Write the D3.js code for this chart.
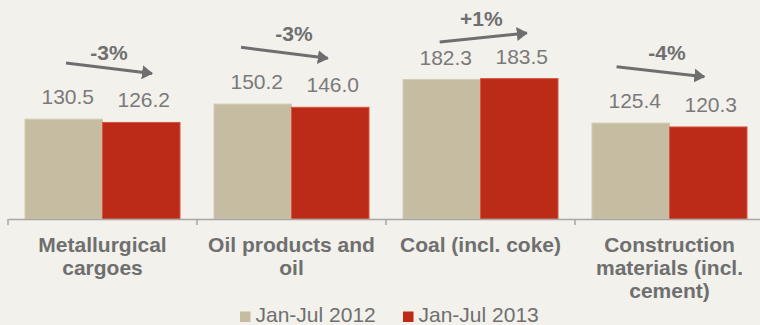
<!DOCTYPE html>
<html>
<head>
<meta charset="utf-8">
<script src="https://cdn.jsdelivr.net/npm/d3@7"></script>
<style>
  html, body { margin: 0; padding: 0; background: #F2F1EC; }
  svg { display: block; }
  text { font-family: "Liberation Sans", Arial, sans-serif; }
</style>
</head>
<body>
<svg id="chart" width="760" height="325"></svg>
<script>
// ---- data ----
const categories = [
  ["Metallurgical", "cargoes"],
  ["Oil products and", "oil"],
  ["Coal (incl. coke)"],
  ["Construction", "materials (incl.", "cement)"]
];
const seriesNames = ["Jan-Jul 2012", "Jan-Jul 2013"];
const values2012 = [130.5, 150.2, 182.3, 125.4];
const values2013 = [126.2, 146.0, 183.5, 120.3];
const changeLabels = ["-3%", "-3%", "+1%", "-4%"];
// arrow annotations: value-axis level at tail and tip
const arrowTailValue = [203.9, 224.4, 231.4, 199.1];
const arrowTipValue  = [190.2, 210.0, 243.1, 186.0];
// arrow annotations: position within the category band (fraction of band)
const arrowTailBand = [0.307, 0.233, 0.284, 0.220];
const arrowTipBand  = [0.762, 0.692, 0.745, 0.684];
// change label anchor: value-axis level of baseline, band fraction of centre
const changeLabelValue = [207.8, 232.7, 252.3, 207.8];
const changeLabelBand  = [0.534, 0.513, 0.504, 0.487];

const colors = ["#C5BCA1", "#BC2B17"];
const strokeColors = ["#D3CCB6", "#D9553F"];

// ---- scales ----
const svg = d3.select("#chart");
const catKeys = categories.map((c, i) => i);
const x = d3.scaleBand().domain(catKeys).range([8, 764]).padding(0);
const x1 = d3.scaleBand().domain(seriesNames).range([17, 172]).padding(0);
const y = d3.scaleLinear().domain([0, 200]).range([219, 66]);

const data = catKeys.map(i => ({
  i,
  vals: [values2012[i], values2013[i]]
}));

// ---- bars ----
const g = svg.append("g");
data.forEach(d => {
  d.vals.forEach((v, s) => {
    g.append("rect")
      .attr("x", x(d.i) + x1(seriesNames[s]))
      .attr("y", y(v))
      .attr("width", x1.bandwidth())
      .attr("height", y(0) - y(v))
      .attr("fill", colors[s])
      .attr("stroke", strokeColors[s])
      .attr("stroke-width", 1);
    g.append("text")
      .attr("x", x(d.i) + x1(seriesNames[s]) + x1.bandwidth() / 2 + (s === 0 ? 4 : 2.5))
      .attr("y", y(v) - 15)
      .attr("text-anchor", "middle")
      .attr("font-size", 21)
      .attr("fill", "#7a7a7a")
      .text(v.toFixed(1));
  });
});

// ---- axis ----
const axis = d3.axisBottom(x).tickSize(0).tickFormat("");
const axG = svg.append("g").attr("transform", `translate(0,${y(0)})`).call(axis);
axG.select(".domain").attr("stroke", "#A6A6A6").attr("stroke-width", 1.5);
const bounds = catKeys.map(i => x(i));
axG.selectAll("line.bt").data(bounds).join("line")
  .attr("class", "bt")
  .attr("x1", d => d).attr("x2", d => d)
  .attr("y1", 0).attr("y2", 6)
  .attr("stroke", "#A6A6A6").attr("stroke-width", 1.5);

// ---- category labels ----
categories.forEach((lines, i) => {
  const t = svg.append("text")
    .attr("text-anchor", "middle")
    .attr("font-size", 21)
    .attr("font-weight", "bold")
    .attr("fill", "#6f6f6f");
  lines.forEach((ln, k) => {
    t.append("tspan")
      .attr("x", x(i) + x.bandwidth() / 2)
      .attr("y", 251.5 + k * 23.3)
      .text(ln);
  });
});

// ---- change arrows ----
const defs = svg.append("defs");
defs.append("marker")
  .attr("id", "ah")
  .attr("viewBox", "0 0 11 14")
  .attr("refX", 10).attr("refY", 7)
  .attr("markerWidth", 11 / 3).attr("markerHeight", 14 / 3)
  .attr("markerUnits", "strokeWidth")
  .attr("orient", "auto")
  .append("path")
  .attr("d", "M0,0 L11,7 L0,14 Z")
  .attr("fill", "#6e6e6e");

catKeys.forEach(i => {
  const x0 = x(i) + arrowTailBand[i] * x.bandwidth();
  const x2 = x(i) + arrowTipBand[i] * x.bandwidth();
  const y0 = y(arrowTailValue[i]);
  const y2 = y(arrowTipValue[i]);
  svg.append("line")
    .attr("x1", x0).attr("y1", y0)
    .attr("x2", x2).attr("y2", y2)
    .attr("stroke", "#6e6e6e")
    .attr("stroke-width", 3)
    .attr("marker-end", "url(#ah)");
  svg.append("text")
    .attr("x", x(i) + changeLabelBand[i] * x.bandwidth())
    .attr("y", y(changeLabelValue[i]))
    .attr("text-anchor", "middle")
    .attr("font-size", 21)
    .attr("font-weight", "bold")
    .attr("fill", "#6f6f6f")
    .text(changeLabels[i]);
});

// ---- legend ----
const legendX = [240, 403];
seriesNames.forEach((name, s) => {
  svg.append("rect")
    .attr("x", legendX[s]).attr("y", 311.5)
    .attr("width", 10.5).attr("height", 10.5)
    .attr("fill", colors[s]);
  svg.append("text")
    .attr("x", legendX[s] + 15.5).attr("y", 322)
    .attr("font-size", 21)
    .attr("fill", "#6f6f6f")
    .text(name);
});
</script>
</body>
</html>
